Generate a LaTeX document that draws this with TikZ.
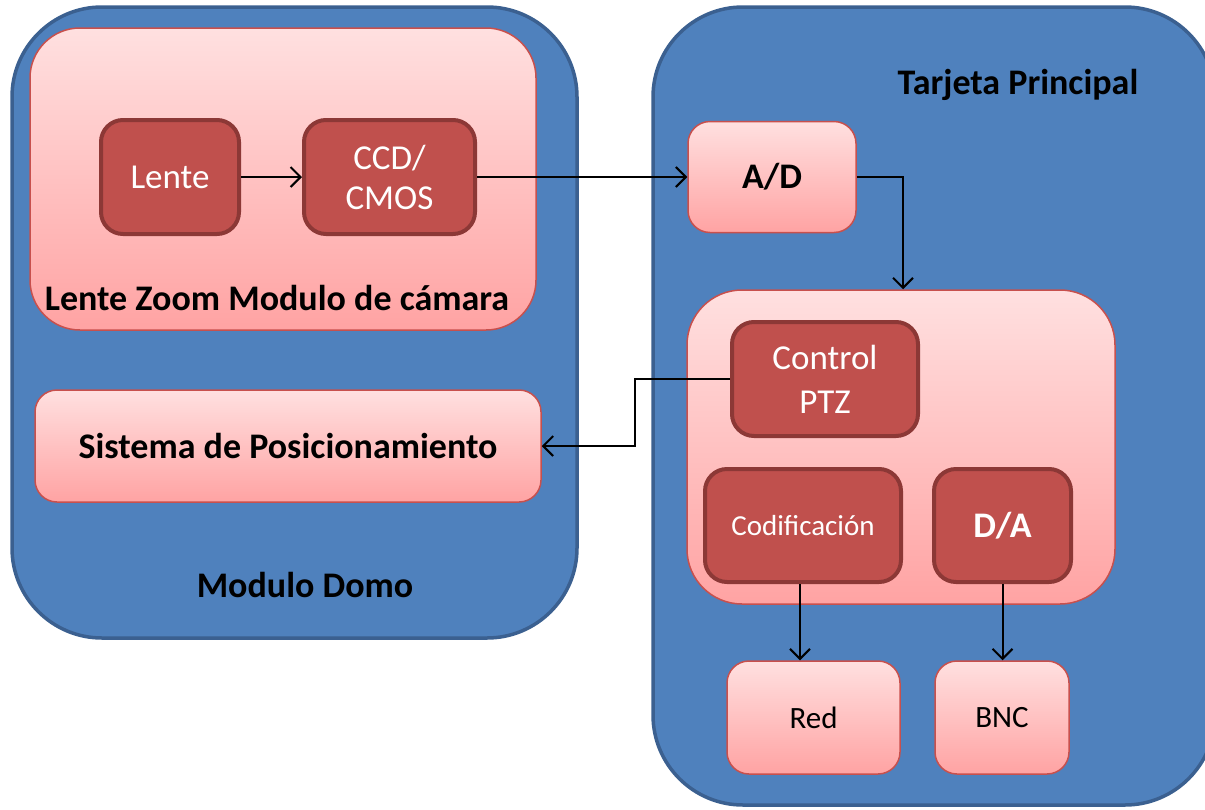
\documentclass[tikz,border=0pt]{standalone}
\usepackage{fontspec}
\setmainfont{Carlito}
\usetikzlibrary{arrows.meta}
\definecolor{bluefill}{HTML}{4F81BD}
\definecolor{blueline}{HTML}{3B6090}
\definecolor{pinktop}{HTML}{FFE0E0}
\definecolor{pinkbot}{HTML}{FFA3A3}
\definecolor{pinkline}{HTML}{C8504D}
\definecolor{redfill}{HTML}{C0504D}
\definecolor{redline}{HTML}{8C3836}
\tikzset{
  bluebox/.style={draw=blueline, line width=3.5pt, fill=bluefill, rounded corners=90pt},
  pinkbox/.style={draw=pinkline, line width=1.5pt, top color=pinktop, bottom color=pinkbot, rounded corners=#1},
  pinkbox/.default=22pt,
  redbox/.style={draw=redline, line width=4pt, fill=redfill, rounded corners=22pt, text=white, align=center},
  lbl/.style={font=\fontsize{36}{43}\selectfont\bfseries},
  conn/.style={line width=2pt, -{Straight Barb[length=10pt,width=20pt,line width=2pt]}},
}
\begin{document}
\begin{tikzpicture}[x=1pt,y=-1pt]
\useasboundingbox (0,0) rectangle (1205,809);
% big blue containers
\node[bluebox, minimum width=565pt, minimum height=631pt, inner sep=0pt] (domo) at (294.5,322.5) {};
\node[bluebox, minimum width=562pt, minimum height=798pt, inner sep=0pt] (tarjeta) at (934,406) {};
\node[lbl] (domolbl) at (305,585) {Modulo Domo};
\node[lbl] (tarjlbl) at (1018,85) {Tarjeta Principal};
% camera module
\node[pinkbox=50pt, minimum width=506pt, minimum height=302pt, inner sep=0pt] (cam) at (283,179) {};
\node[lbl] (camlbl) at (277,298) {Lente Zoom Modulo de cámara};
\node[redbox, minimum width=138pt, minimum height=114pt, inner sep=0pt, font=\fontsize{35}{42}\selectfont] (lente) at (170,177) {Lente};
\node[redbox, minimum width=171pt, minimum height=114pt, inner sep=0pt, font=\fontsize{35}{40}\selectfont] (ccd) at (389.5,177) {CCD/\\CMOS};
% positioning
\node[pinkbox=22pt, minimum width=506pt, minimum height=112pt, inner sep=0pt, lbl] (sis) at (288,446) {Sistema de Posicionamiento};
% main board
\node[pinkbox=22pt, minimum width=168pt, minimum height=111pt, inner sep=0pt, lbl] (ad) at (772,177) {A/D};
\node[pinkbox=55pt, minimum width=428pt, minimum height=314pt, inner sep=0pt] (proc) at (901,447) {};
\node[redbox, minimum width=186pt, minimum height=114pt, inner sep=0pt, font=\fontsize{35}{44}\selectfont] (ptz) at (825,379) {Control\\PTZ};
\node[redbox, minimum width=196pt, minimum height=113pt, inner sep=0pt, font=\fontsize{29}{35}\selectfont] (cod) at (803,525.5) {Codificación};
\node[redbox, minimum width=137pt, minimum height=113pt, inner sep=0pt, font=\fontsize{36}{43}\selectfont\bfseries] (da) at (1002.5,525.5) {D/A};
\node[pinkbox=22pt, minimum width=173pt, minimum height=113pt, inner sep=0pt, font=\fontsize{31}{37}\selectfont] (red) at (813.5,717.5) {Red};
\node[pinkbox=22pt, minimum width=134pt, minimum height=113pt, inner sep=0pt, font=\fontsize{31}{37}\selectfont] (bnc) at (1002,717.5) {BNC};
% connectors
\draw[conn] (lente.east) -- (ccd.west);
\draw[conn] (ccd.east) -- (ad.west);
\draw[conn] (ad.east) -| (proc.north -| 903,0);
\draw[conn] (ptz.west) -- (635,379) |- (sis.east);
\draw[conn] (cod.south -| 800,0) -- (red.north -| 800,0);
\draw[conn] (da.south) -- (bnc.north -| da.south);
\end{tikzpicture}
\end{document}
